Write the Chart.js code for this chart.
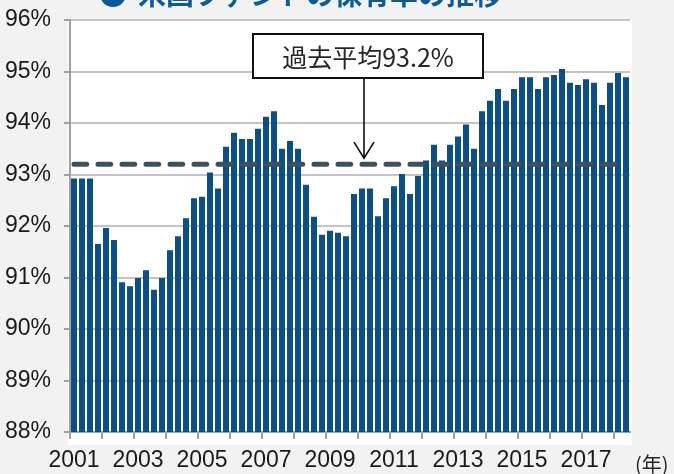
<!DOCTYPE html>
<html><head><meta charset="utf-8">
<script src="https://cdn.jsdelivr.net/npm/chart.js@4"></script>
<style>html,body{margin:0;padding:0;background:#f2f2f2;} canvas{display:block;}</style>
</head><body>
<canvas id="c" width="674" height="474"></canvas>
<script>
// ---- data ----
const years = [2001,2002,2003,2004,2005,2006,2007,2008,2009,2010,2011,2012,2013,2014,2015,2016,2017,2018];
const quarters = ['Q1','Q2','Q3','Q4'];
const yearTickLabels = ['2001','2003','2005','2007','2009','2011','2013','2015','2017'];
// 保有率 (%) quarterly, 2001Q1 - 2018Q2
const holdingRatio = [
  92.92, 92.92, 92.92, 91.65,
  91.96, 91.73, 90.91, 90.83,
  90.99, 91.14, 90.76, 90.99,
  91.53, 91.80, 92.15, 92.54,
  92.57, 93.04, 92.73, 93.54,
  93.81, 93.69, 93.69, 93.89,
  94.12, 94.23, 93.50, 93.65,
  93.50, 92.80, 92.18, 91.83,
  91.91, 91.87, 91.80, 92.62,
  92.73, 92.73, 92.19, 92.54,
  92.77, 93.01, 92.62, 92.97,
  93.27, 93.58, 93.27, 93.58,
  93.74, 93.97, 93.50, 94.23,
  94.43, 94.66, 94.43, 94.66,
  94.89, 94.89, 94.66, 94.89,
  94.93, 95.05, 94.78, 94.74,
  94.85, 94.78, 94.35, 94.78,
  94.97, 94.89
];
const averageValue = 93.2;
const averageLabel = '過去平均93.2%';
const averageSpan = 69; // number of quarters the average line covers

// ---- build ----
const categories = [];
years.forEach(y => quarters.forEach(q => categories.push(y + q)));
categories.length = holdingRatio.length;
const avgData = categories.map((c, i) => i < averageSpan ? averageValue : null);

const numFont = "'Liberation Sans Narrow', 'Arial Narrow', sans-serif";
const cjkFont = "'Noto Sans CJK JP', sans-serif";

const bgPlugin = {
  id: 'bg',
  beforeDraw(chart) {
    const ctx = chart.ctx;
    ctx.save();
    ctx.fillStyle = '#f2f2f2';
    ctx.fillRect(0, 0, chart.width, chart.height);
    const a = chart.chartArea;
    ctx.fillStyle = '#ffffff';
    ctx.fillRect(a.left - 2, a.top, a.right - a.left + 4, a.bottom - a.top + 13);
    // title (cut off at the top)
    ctx.fillStyle = '#0d5a94';
    ctx.beginPath();
    ctx.arc(113, -6, 13, 0, Math.PI * 2);
    ctx.fill();
    ctx.font = "bold 28px " + cjkFont;
    ctx.textBaseline = 'alphabetic';
    ctx.textAlign = 'left';
    ctx.fillText('米国ファンドの保有率の推移', 138, 5);
    ctx.restore();
  },
  afterDraw(chart) {
    const ctx = chart.ctx;
    const xs = chart.scales.x, ys = chart.scales.y;
    ctx.save();
    // annotation box
    const bx = 253, by = 34, bw = 230, bh = 44;
    ctx.fillStyle = '#ffffff';
    ctx.fillRect(bx, by, bw, bh);
    ctx.strokeStyle = '#111111';
    ctx.lineWidth = 2;
    ctx.strokeRect(bx, by, bw, bh);
    ctx.fillStyle = '#262626';
    ctx.font = "25px " + cjkFont;
    ctx.textAlign = 'center';
    ctx.textBaseline = 'middle';
    ctx.fillText(averageLabel, bx + bw / 2, by + bh / 2 + 1);
    // arrow
    const ax = 364;
    const tipY = ys.getPixelForValue(averageValue) - 6;
    ctx.strokeStyle = '#111111';
    ctx.lineWidth = 1.6;
    ctx.beginPath();
    ctx.moveTo(ax, by + bh);
    ctx.lineTo(ax, tipY);
    ctx.moveTo(ax - 10, tipY - 16);
    ctx.lineTo(ax, tipY);
    ctx.lineTo(ax + 10, tipY - 16);
    ctx.stroke();
    // unit label
    ctx.fillStyle = '#262626';
    ctx.font = "20px " + cjkFont;
    ctx.textAlign = 'left';
    ctx.textBaseline = 'middle';
    ctx.fillText('(年)', xs.right + 5, 464);
    ctx.restore();
  }
};

new Chart(document.getElementById('c'), {
  data: {
    labels: categories,
    datasets: [
      {
        type: 'line',
        data: avgData,
        borderColor: '#3e505f',
        borderWidth: 5,
        borderDash: [12.7, 11.3],
        borderCapStyle: 'round',
        pointRadius: 0,
        fill: false,
        order: 0,
        spanGaps: false
      },
      {
        type: 'bar',
        data: holdingRatio,
        backgroundColor: '#0b4f86',
        barPercentage: 0.75,
        categoryPercentage: 1.0,
        order: 1
      }
    ]
  },
  options: {
    responsive: false,
    animation: false,
    devicePixelRatio: 1,
    layout: { autoPadding: false, padding: { left: 0, right: 44, top: 20, bottom: 0 } },
    plugins: { legend: { display: false }, tooltip: { enabled: false } },
    scales: {
      x: {
        type: 'category',
        offset: true,
        afterFit(s) { s.height = 42; },
        grid: {
          offset: true,
          drawOnChartArea: false,
          tickLength: 7,
          lineWidth: 2,
          tickColor: ctx => (ctx.index % 4 === 0 ? '#a0a0a0' : 'rgba(0,0,0,0)')
        },
        border: { color: '#a0a0a0', width: 2 },
        ticks: {
          autoSkip: false,
          maxRotation: 0,
          minRotation: 0,
          padding: 8,
          color: '#1a1a1a',
          font: { family: numFont, size: 23 },
          callback: function (v, i) {
            const lab = String(categories[i]).slice(0, 4);
            return (categories[i].endsWith('Q1') && yearTickLabels.includes(lab)) ? lab : '';
          }
        }
      },
      y: {
        min: 88,
        max: 96,
        afterFit(s) { s.width = 70; },
        grid: { color: '#c4c4c4', lineWidth: 2, tickLength: 6, tickColor: '#a0a0a0' },
        border: { color: '#a0a0a0', width: 2 },
        ticks: {
          stepSize: 1,
          padding: 13,
          color: '#1a1a1a',
          font: { family: numFont, size: 23, lineHeight: 0.5 },
          callback: v => v + '%'
        }
      }
    }
  },
  plugins: [bgPlugin]
});
</script>
</body></html>
